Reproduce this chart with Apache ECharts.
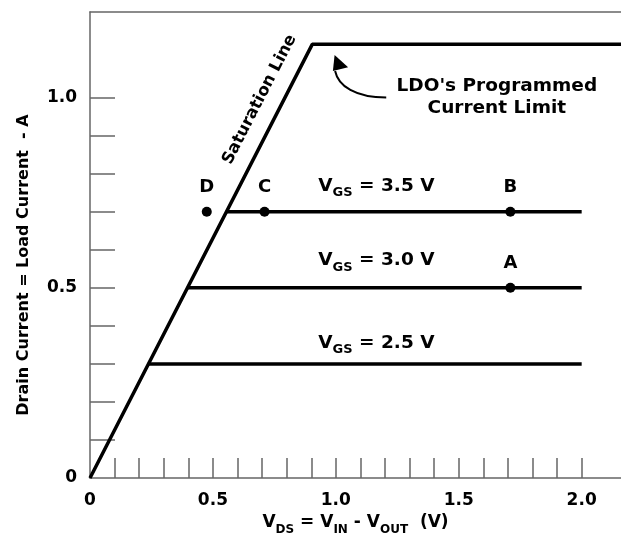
<!DOCTYPE html>
<html><head><meta charset="utf-8">
<script src="https://cdn.jsdelivr.net/npm/echarts@6/dist/echarts.min.js"></script>
<style>html,body{margin:0;padding:0;background:#fff}#c{width:621px;height:535px}</style>
</head><body><div id="c"></div>
<script>
// ---- data ----
const xTickValues = [0.1,0.2,0.3,0.4,0.5,0.6,0.7,0.8,0.9,1.0,1.1,1.2,1.3,1.4,1.5,1.6,1.7,1.8,1.9,2.0];
const xLabelValues = [0, 0.5, 1.0, 1.5, 2.0];
const yTickValues = [0.1,0.2,0.3,0.4,0.5,0.6,0.7,0.8,0.9,1.0];
const yLabelValues = [0, 0.5, 1.0];
const saturationLine = [[0,0],[0.904,1.14],[2.3,1.14]];
const vgs25 = [[0.238,0.3],[2.0,0.3]];
const vgs30 = [[0.397,0.5],[2.0,0.5]];
const vgs35 = [[0.556,0.7],[2.0,0.7]];
const points = [
  {name:'D', value:[0.475,0.7]},
  {name:'C', value:[0.71,0.7]},
  {name:'B', value:[1.71,0.7]},
  {name:'A', value:[1.71,0.5]}
];
const vgsLabels = [
  {name:'3.5', value:[1.165,0.765]},
  {name:'3.0', value:[1.165,0.57]},
  {name:'2.5', value:[1.165,0.352]}
];
const satLabelPos = [[0.69,0.995]];
const ldoLabelPos = [[1.655,1.0]];
const arrowTail = [1.205,1.0], arrowC1 = [1.08,1.0], arrowC2 = [1.01,1.03], arrowEnd = [0.997,1.07];
const arrowHead = [[0.995,1.112],[0.988,1.07],[1.05,1.08]];

const FONT = 'DejaVu Sans';
const chart = echarts.init(document.getElementById('c'));
const subRich = {
  v:{fontFamily:FONT,fontWeight:'bold',fontSize:18.5,color:'#000',verticalAlign:'top',lineHeight:21},
  s:{fontFamily:FONT,fontWeight:'bold',fontSize:13,color:'#000',verticalAlign:'top',lineHeight:15,padding:[10,0,0,0]}
};
const axisRich = {
  v:{fontFamily:FONT,fontWeight:'bold',fontSize:17,color:'#000',verticalAlign:'top',lineHeight:20},
  s:{fontFamily:FONT,fontWeight:'bold',fontSize:12,color:'#000',verticalAlign:'top',lineHeight:14,padding:[10,0,0,0]}
};
const lineStyle = {color:'#000', width:3.5};
const xMin = 0, xMax = 2.16, yMin = 0, yMax = 1.225;
chart.setOption({
  animation:false,
  grid:{left:90, right:0, top:12, bottom:57, containLabel:false, outerBoundsMode:'none'},
  xAxis:[{
    type:'value', min:xMin, max:xMax, position:'bottom',
    axisLine:{show:true, onZero:false, lineStyle:{color:'#666', width:1.5}},
    axisTick:{show:true, inside:true, length:20, customValues:xTickValues, lineStyle:{color:'#666', width:1.5}},
    axisLabel:{customValues:xLabelValues, margin:14, formatter:v=> v===0?'0':v.toFixed(1),
      fontFamily:FONT, fontWeight:'bold', fontSize:17, color:'#000'},
    splitLine:{show:false},
    name:'{v|V}{s|DS}{v| = V}{s|IN}{v| - V}{s|OUT}{v|  (V)}',
    nameLocation:'middle', nameGap:36,
    nameTextStyle:{rich:axisRich}
  },{
    type:'value', min:xMin, max:xMax, position:'top',
    axisLine:{show:true, onZero:false, lineStyle:{color:'#666', width:1.5}},
    axisTick:{show:false}, axisLabel:{show:false}, splitLine:{show:false}
  }],
  yAxis:{
    type:'value', min:yMin, max:yMax,
    axisLine:{show:true, onZero:false, lineStyle:{color:'#666', width:1.5}},
    axisTick:{show:true, inside:true, length:25, customValues:yTickValues, lineStyle:{color:'#666', width:1.5}},
    axisLabel:{customValues:yLabelValues, margin:13, formatter:v=> v===0?'0':v.toFixed(1),
      fontFamily:FONT, fontWeight:'bold', fontSize:17, color:'#000'},
    splitLine:{show:false},
    name:'Drain Current = Load Current  - A', nameLocation:'middle', nameGap:58,
    nameTextStyle:{fontFamily:FONT, fontWeight:'bold', fontSize:16, color:'#000', padding:[0,40,0,0]}
  },
  series:[
    {type:'line', data:saturationLine, symbol:'none', lineStyle:lineStyle, clip:true},
    {type:'line', data:vgs25, symbol:'none', lineStyle:lineStyle},
    {type:'line', data:vgs30, symbol:'none', lineStyle:lineStyle},
    {type:'line', data:vgs35, symbol:'none', lineStyle:lineStyle},
    {type:'scatter', data:points, symbolSize:10, itemStyle:{color:'#000', opacity:1},
      label:{show:true, position:'top', distance:10, formatter:p=>p.name,
        fontFamily:FONT, fontWeight:'bold', fontSize:18, color:'#000'}},
    {type:'scatter', data:vgsLabels, symbolSize:0, itemStyle:{opacity:1},
      label:{show:true, position:'inside', formatter:p=>'{v|V}{s|GS}{v| = '+p.name+' V}', rich:subRich}},
    {type:'scatter', data:satLabelPos, symbolSize:0, itemStyle:{opacity:1},
      label:{show:true, position:'inside', rotate:62.8, formatter:'Saturation Line',
        fontFamily:FONT, fontWeight:'bold', fontSize:16.5, color:'#000'}},
    {type:'scatter', data:ldoLabelPos, symbolSize:0, itemStyle:{opacity:1},
      label:{show:true, position:'inside', formatter:"LDO's Programmed\nCurrent Limit", lineHeight:22, align:'center',
        fontFamily:FONT, fontWeight:'bold', fontSize:18.5, color:'#000'}}
  ]
});
function px(p){ return chart.convertToPixel({gridIndex:0}, p); }
const t = px(arrowTail), c1 = px(arrowC1), c2 = px(arrowC2), e = px(arrowEnd);
chart.setOption({graphic:[
  {type:'bezierCurve', shape:{x1:t[0],y1:t[1],cpx1:c1[0],cpy1:c1[1],cpx2:c2[0],cpy2:c2[1],x2:e[0],y2:e[1]},
   style:{stroke:'#000', lineWidth:2, fill:null}},
  {type:'polygon', shape:{points:arrowHead.map(px)}, style:{fill:'#000'}}
]});
</script></body></html>
